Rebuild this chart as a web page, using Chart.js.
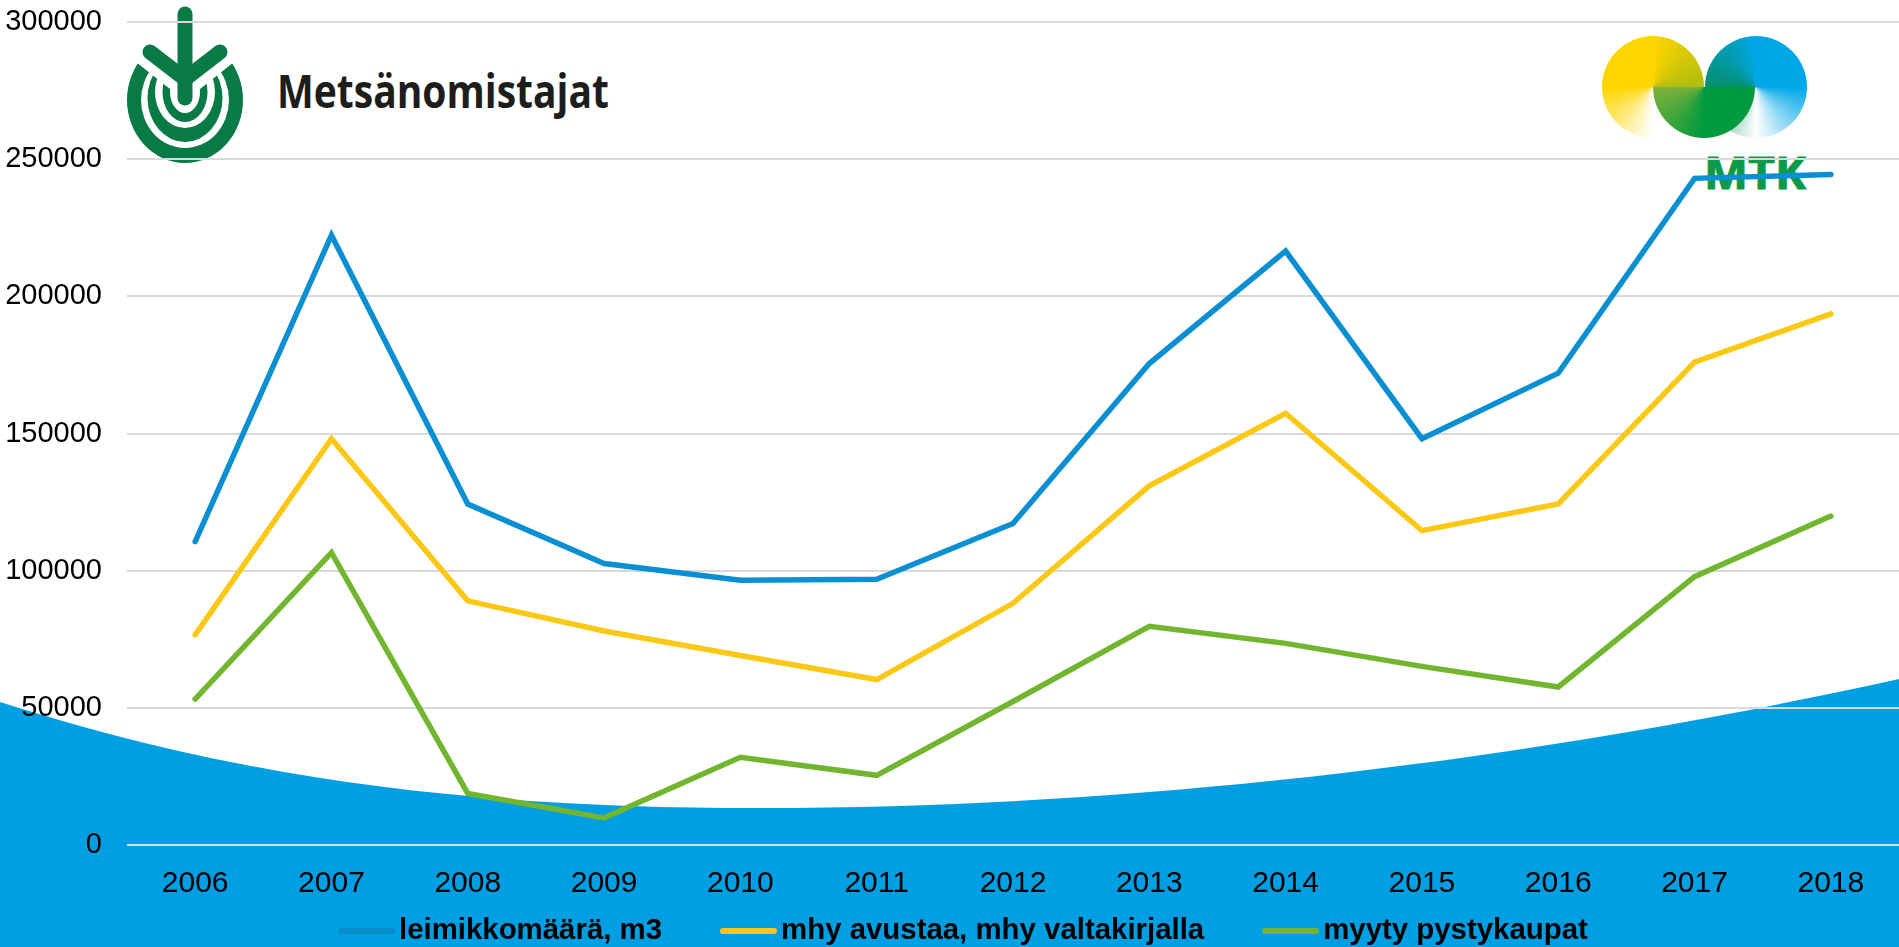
<!DOCTYPE html>
<html>
<head>
<meta charset="utf-8">
<title>Leimikkomäärä</title>
<script src="https://cdn.jsdelivr.net/npm/chart.js@4/dist/chart.umd.js"></script>
<style>
html, body { margin: 0; padding: 0; background: #fff; overflow: hidden; }
#wrap { position: relative; width: 1899px; height: 947px; }
#bg, #chartBox { position: absolute; left: 0; top: 0; width: 1899px; height: 947px; }
.disc { position: absolute; top: 36px; width: 102px; height: 102px; border-radius: 51px; }
#discY { left: 1602px; background: conic-gradient(#ffd500 0deg, #aebd0e 90deg, #fff 90deg, #fff 180deg, #ffd500 270deg, #ffd500 360deg); }
#discB { left: 1705px; background: conic-gradient(#00a7e7 0deg, #00a7e7 90deg, #fff 180deg, #fff 180deg, #058f6a 270deg, #00a7e7 360deg); }
#discG { position: absolute; left: 1653px; top: 87px; width: 102px; height: 51px; border-radius: 0 0 51px 51px; background: conic-gradient(at 50% 0, #009a3e 90deg, #009a3e 180deg, #7fb23a 270deg); }
#legend { position: absolute; left: 338px; top: 914px; display: flex; gap: 58px; font: bold 29.4px/30px "Liberation Sans", Arial, sans-serif; color: #000; white-space: nowrap; }
#legend .item { display: flex; align-items: center; }
#legend .sample { width: 57px; height: 6px; border-radius: 3px; margin: 3px 4px 0 0; }
</style>
</head>
<body>
<div id="wrap">
  <!-- wave and logos sit under the transparent canvas -->
  <svg id="bg" width="1899" height="947" viewBox="0 0 1899 947">
    <path d="M0,702 C250,782 480,808 757,808 C1200,808 1600,745 1899,679 L1899,947 L0,947 Z" fill="#009fe3"/>
    <ellipse cx="185" cy="100" rx="58" ry="63" fill="#077a45"/>
    <ellipse cx="185" cy="100" rx="44" ry="48" fill="#fff"/>
    <ellipse cx="185" cy="98" rx="37.5" ry="44" fill="#077a45"/>
    <ellipse cx="185" cy="92" rx="30" ry="36" fill="#fff"/>
    <ellipse cx="185" cy="92" rx="22.5" ry="30" fill="#077a45"/>
    <ellipse cx="185" cy="92" rx="15" ry="21" fill="#fff"/>
    <path d="M110,0 H260 V62 H234 L185,101 L136,62 H110 Z" fill="#fff"/>
    <g fill="none" stroke="#077a45" stroke-width="15" stroke-linecap="round" stroke-linejoin="round">
      <path d="M185,14 V98"/>
      <path d="M150,52 L185,79 L220,52"/>
    </g>
    <text x="277" y="108" font-family="Open Sans" font-weight="700" font-size="46" fill="#1d1d1b" textLength="332" lengthAdjust="spacingAndGlyphs">Metsänomistajat</text>
  </svg>
  <div class="disc" id="discY"></div>
  <div class="disc" id="discB"></div>
  <div id="discG"></div>
  <svg style="position:absolute;left:0;top:0" width="1899" height="947">
    <text x="1704" y="189" font-family="Open Sans" font-weight="700" font-size="45" fill="#0a9a4a" stroke="#0a9a4a" stroke-width="1" stroke-linejoin="round" textLength="102" lengthAdjust="spacingAndGlyphs">MTK</text>
  </svg>
  <div id="chartBox"><canvas id="chart" width="1899" height="947"></canvas></div>
  <div id="legend"></div>
</div>
<script>
const years = ['2006','2007','2008','2009','2010','2011','2012','2013','2014','2015','2016','2017','2018'];
const leimikkomaara = [110600,222300,124300,102600,96500,96900,117200,175500,216500,148100,172000,243000,244400];
const avustaa = [76600,148100,89000,78000,69100,60300,88100,130900,157400,114600,124300,176000,193600];
const pystykaupat = [53200,106600,18800,9900,32000,25400,52300,79700,73500,65100,57600,97800,119900];
const seriesNames = ['leimikkomäärä, m3','mhy avustaa, mhy valtakirjalla','myyty pystykaupat'];
const seriesColors = ['#0a8fd2','#fbc815','#72b62f'];
const legendColors = ['#0a8ccb','#fbc815','#72b62f'];
const tickFont = { family: '"Liberation Sans", Arial, sans-serif', size: 30 };
const yTickFont = { family: '"Liberation Sans", Arial, sans-serif', size: 29 };

function lineSet(i, values) {
    return {
        label: seriesNames[i],
        data: values,
        borderColor: seriesColors[i],
        borderWidth: 5.5,
        borderCapStyle: 'round',
        borderJoinStyle: 'miter',
        pointRadius: 0,
        tension: 0
    };
}

new Chart(document.getElementById('chart'), {
    type: 'line',
    data: {
        labels: years,
        datasets: [lineSet(0, leimikkomaara), lineSet(1, avustaa), lineSet(2, pystykaupat)]
    },
    options: {
        responsive: false,
        animation: false,
        layout: { padding: { top: 22, left: 0, right: 0, bottom: 0 } },
        plugins: {
            tooltip: { enabled: false },
            legend: { display: false }
        },
        scales: {
            x: {
                offset: true,
                afterFit(scale) { scale.height = 102; },
                grid: { display: false },
                border: { display: false },
                ticks: { color: '#000', font: tickFont, maxRotation: 0, padding: 13 }
            },
            y: {
                min: 0,
                max: 300000,
                afterFit(scale) {
                    scale.width = 127;
                    scale.paddingTop = 0;
                    scale.paddingBottom = 0;
                },
                grid: { color: '#d9d9d9', lineWidth: 2, drawTicks: false },
                border: { display: false },
                ticks: { color: '#000', font: yTickFont, stepSize: 50000, padding: 25, callback: v => String(v) }
            }
        }
    }
});

// legend is plain html, the sample and text sit tighter than the built in one allows
const legendBox = document.getElementById('legend');
seriesNames.forEach((name, i) => {
    const item = document.createElement('div');
    item.className = 'item';
    const sample = document.createElement('span');
    sample.className = 'sample';
    sample.style.background = legendColors[i];
    item.appendChild(sample);
    item.appendChild(document.createTextNode(name));
    legendBox.appendChild(item);
});
</script>
</body>
</html>
